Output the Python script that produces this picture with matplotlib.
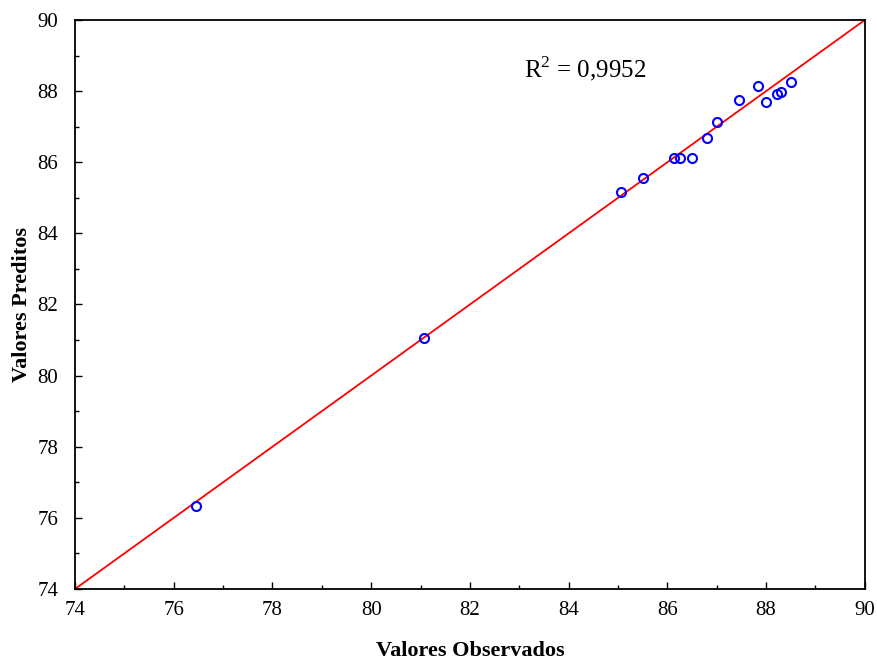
import matplotlib

matplotlib.use('Agg')
import matplotlib.pyplot as plt
from matplotlib.ticker import MultipleLocator

# Valores observados x preditos
observados = [76.46, 81.07, 85.07, 85.51, 86.13, 86.25, 86.50, 86.81,
              87.01, 87.46, 87.83, 87.99, 88.22, 88.31, 88.51]
preditos = [76.33, 81.06, 85.16, 85.57, 86.13, 86.13, 86.13, 86.68,
            87.13, 87.75, 88.15, 87.69, 87.92, 87.97, 88.26]
limites = [74, 90]
r2_texto = r'R$^2$ = 0,9952'

plt.rcParams['font.family'] = ['Liberation Serif', 'DejaVu Serif']
plt.rcParams['mathtext.fontset'] = 'custom'
plt.rcParams['mathtext.rm'] = 'Liberation Serif'

fig = plt.figure(figsize=(8.78, 6.62), dpi=100)
ax = fig.add_axes([0.0854, 0.1103, 0.8996, 0.8595])

# Linha y = x
ax.plot(limites, limites, color='red', linewidth=1.3, zorder=2)
ax.plot(observados, preditos, linestyle='none', marker='o', markersize=6.5,
        markerfacecolor='none', markeredgecolor='blue', markeredgewidth=1.5, zorder=3)

ax.set_xlim(limites)
ax.set_ylim(limites)
ax.xaxis.set_major_locator(MultipleLocator(2))
ax.yaxis.set_major_locator(MultipleLocator(2))
ax.xaxis.set_minor_locator(MultipleLocator(1))
ax.yaxis.set_minor_locator(MultipleLocator(1))
ax.tick_params(which='both', direction='in', top=False, right=False, labelsize=15)
ax.tick_params(which='major', length=5, width=1)
ax.tick_params(axis='x', which='major', pad=9)
ax.tick_params(axis='y', which='major', pad=12)
ax.tick_params(which='minor', length=3, width=1)
for s in ax.spines.values():
    s.set_linewidth(1.3)

ax.set_xlabel('Valores Observados', fontsize=16, fontweight='bold', va='center')
ax.set_ylabel('Valores Preditos', fontsize=16, fontweight='bold', va='center')
ax.xaxis.set_label_coords(0.5, -0.109)
ax.yaxis.set_label_coords(-0.067, 0.5)

ax.text(0.569, 0.915, r2_texto, transform=ax.transAxes, fontsize=18, va='center')

plt.savefig('out.png', dpi=100)
plt.close()
